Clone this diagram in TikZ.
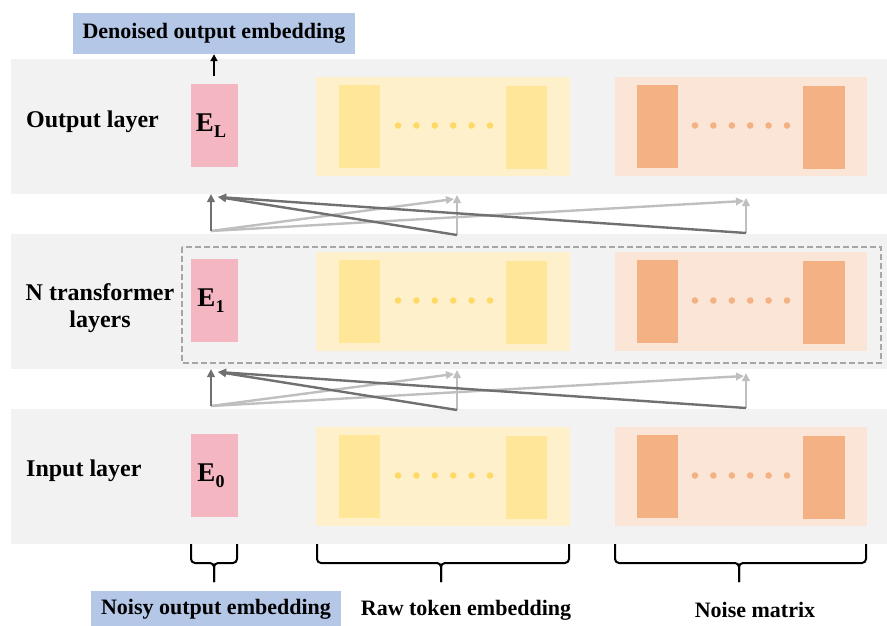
\documentclass[tikz,border=0pt]{standalone}
\usepackage{fontspec}
\setmainfont{Liberation Serif}
\usetikzlibrary{arrows.meta}
\definecolor{bandgray}{RGB}{242,242,242}
\definecolor{lblue}{RGB}{180,199,231}
\definecolor{epink}{RGB}{244,182,192}
\definecolor{ylight}{RGB}{255,240,204}
\definecolor{ydark}{RGB}{255,230,153}
\definecolor{ydot}{RGB}{255,217,102}
\definecolor{olight}{RGB}{251,229,214}
\definecolor{odark}{RGB}{244,177,131}
\definecolor{adark}{RGB}{112,112,112}
\definecolor{alight}{RGB}{191,191,191}
\definecolor{dashgray}{RGB}{166,166,166}
\newcommand{\drawbrace}[3]{%
  \draw[bracestyle] (#1,544) -- (#1,563) -- (#3,563) -- (#3,582);
  \draw[bracestyle] (#2,544) -- (#2,563) -- (#3,563) -- (#3,582);}
\begin{document}
\begin{tikzpicture}[x=1pt,y=-1pt,
  band/.style={fill=bandgray,draw=none},
  ebox/.style={fill=epink,draw=none},
  lbl/.style={font=\fontsize{24}{28}\selectfont\bfseries,inner sep=0pt},
  bluelbl/.style={font=\fontsize{22}{26}\selectfont\bfseries,inner sep=0pt},
  elbl/.style={font=\fontsize{27}{28}\selectfont\bfseries,inner sep=0pt},
  darr/.style={draw=adark,line width=2.4pt,-{Triangle[length=8pt,width=7.5pt]}},
  larr/.style={draw=alight,line width=2.4pt,-{Triangle[length=8pt,width=7.5pt]}},
  bracestyle/.style={draw=black,line width=2pt,rounded corners=4pt},
]
\useasboundingbox (0,0) rectangle (887,626);

% bands
\foreach \t/\n/\s in {59/L/L,234/1/1,409/0/0}{
  \fill[band] (11,\t) rectangle (887,\t+135);
  \fill[ebox] (191,\t+25) rectangle (238,\t+108);
  \node[elbl] (E\n) at (211,\t+67) {E\raisebox{-6pt}{\fontsize{18}{18}\selectfont \s}};
  % yellow group
  \fill[ylight] (316,\t+18) rectangle (570,\t+117);
  \fill[ydark] (339,\t+26) rectangle (380,\t+109);
  \fill[ydark] (506,\t+27) rectangle (547,\t+110);
  \foreach \k in {0,...,5}{\fill[ydot] (398+18.4*\k,\t+66.5) circle (3.3);}
  % orange group
  \fill[olight] (615,\t+18) rectangle (867,\t+117);
  \fill[odark] (637,\t+26) rectangle (678,\t+109);
  \fill[odark] (803,\t+27) rectangle (845,\t+110);
  \foreach \k in {0,...,5}{\fill[odark] (695+18.4*\k,\t+66.5) circle (3.3);}
}

% layer labels
\node[lbl,anchor=west] (outl) at (26,122) {Output layer};
\node[lbl,align=center] (ntl) at (100,308) {N transformer\\[-1pt]layers};
\node[lbl,anchor=west] (inl) at (26,471) {Input layer};

% dashed box
\draw[dashgray,line width=1.5pt,dash pattern=on 6pt off 3pt] (182,247) rectangle (881,363);

% arrows between layers
\foreach \g in {0,175}{
  \coordinate (sa) at (211,231+\g);
  \coordinate (sb) at (457,235+\g);
  \coordinate (sc) at (746,233+\g);
  \coordinate (ta) at (211,194+\g);
  \coordinate (ta2) at (218,197+\g);
  \coordinate (tb) at (457,195+\g);
  \coordinate (tb2) at (454,199+\g);
  \coordinate (tc) at (746,198+\g);
  \coordinate (tc2) at (744,201+\g);
  \draw[larr] (sa) -- (tb2);
  \draw[larr] (sa) -- (tc2);
  \draw[larr] (sb) -- (tb);
  \draw[larr] (sc) -- (tc);
  \draw[darr] (sb) -- (ta2);
  \draw[darr] (sc) -- (ta2);
  \draw[darr] (sa) -- (ta);
}

% top output
\node[bluelbl,fill=lblue,minimum width=282pt,minimum height=41pt] (den) at (214,33.5) {Denoised output embedding};
\coordinate (elt) at (214,76);
\draw[black,line width=1.8pt,-{Triangle[length=7pt,width=7pt]}] (elt) -- (den.south);

% braces
\drawbrace{191}{237}{214}
\drawbrace{317}{569}{441}
\drawbrace{615}{866}{739}

% bottom labels
\node[bluelbl,fill=lblue,minimum width=250pt,minimum height=36pt] (noisy) at (216,609) {Noisy output embedding};
\node[bluelbl] (raw) at (466,610) {Raw token embedding};
\node[bluelbl] (nm) at (755,610) {Noise matrix};
\end{tikzpicture}
\end{document}
